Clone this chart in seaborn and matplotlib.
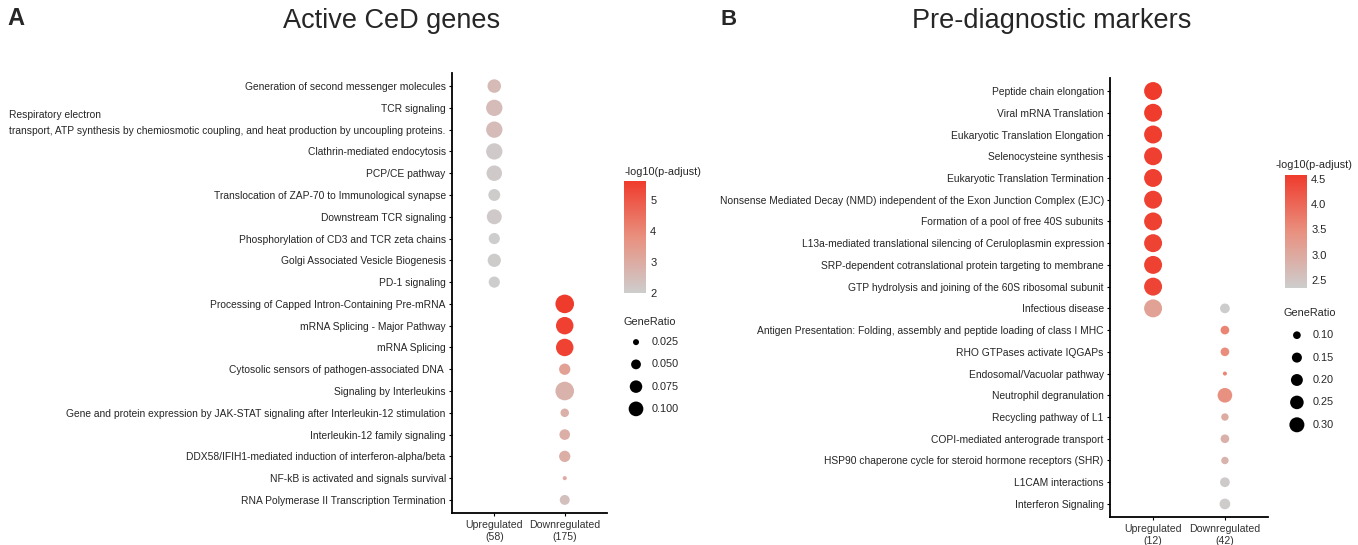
import numpy as np
import pandas as pd
import matplotlib
matplotlib.use("Agg")
import matplotlib.pyplot as plt
import seaborn as sns
from matplotlib.colors import LinearSegmentedColormap, Normalize
from matplotlib.cm import ScalarMappable

sns.set_theme(style="ticks")
plt.rcParams["font.family"] = ["Liberation Sans", "DejaVu Sans"]

# ---------------------------
# Data
# ---------------------------
a_groups = ["Upregulated\n(58)", "Downregulated\n(175)"]
a_up_terms = [
    "Generation of second messenger molecules",
    "TCR signaling",
    "transport, ATP synthesis by chemiosmotic coupling, and heat production by uncoupling proteins.",
    "Clathrin-mediated endocytosis",
    "PCP/CE pathway",
    "Translocation of ZAP-70 to Immunological synapse",
    "Downstream TCR signaling",
    "Phosphorylation of CD3 and TCR zeta chains",
    "Golgi Associated Vesicle Biogenesis",
    "PD-1 signaling",
]
a_up_ratio = [0.086, 0.121, 0.121, 0.121, 0.110, 0.069, 0.103, 0.062, 0.083, 0.062]
a_up_padj = [2.55, 2.5, 2.5, 2.1, 2.1, 2.05, 2.1, 2.0, 2.05, 2.0]

a_down_terms = [
    "Processing of Capped Intron-Containing Pre-mRNA",
    "mRNA Splicing - Major Pathway",
    "mRNA Splicing",
    "Cytosolic sensors of pathogen-associated DNA ",
    "Signaling by Interleukins",
    "Gene and protein expression by JAK-STAT signaling after Interleukin-12 stimulation",
    "Interleukin-12 family signaling",
    "DDX58/IFIH1-mediated induction of interferon-alpha/beta",
    "NF-kB is activated and signals survival",
    "RNA Polymerase II Transcription Termination",
]
a_down_ratio = [0.154, 0.137, 0.137, 0.063, 0.154, 0.040, 0.057, 0.063, 0.017, 0.051]
a_down_padj = [5.6, 5.5, 5.45, 3.3, 2.8, 2.85, 2.9, 2.9, 3.0, 2.4]

b_groups = ["Upregulated\n(12)", "Downregulated\n(42)"]
b_up_terms = [
    "Peptide chain elongation",
    "Viral mRNA Translation",
    "Eukaryotic Translation Elongation",
    "Selenocysteine synthesis",
    "Eukaryotic Translation Termination",
    "Nonsense Mediated Decay (NMD) independent of the Exon Junction Complex (EJC)",
    "Formation of a pool of free 40S subunits",
    "L13a-mediated translational silencing of Ceruloplasmin expression",
    "SRP-dependent cotranslational protein targeting to membrane",
    "GTP hydrolysis and joining of the 60S ribosomal subunit",
    "Infectious disease",
]
b_up_ratio = [0.417, 0.417, 0.417, 0.417, 0.417, 0.417, 0.417, 0.417, 0.417, 0.417, 0.417]
b_up_padj = [4.58, 4.56, 4.55, 4.52, 4.52, 4.5, 4.5, 4.48, 4.5, 4.45, 3.15]

b_down_terms = [
    "Infectious disease",
    "Antigen Presentation: Folding, assembly and peptide loading of class I MHC",
    "RHO GTPases activate IQGAPs",
    "Endosomal/Vacuolar pathway",
    "Neutrophil degranulation",
    "Recycling pathway of L1",
    "COPI-mediated anterograde transport",
    "HSP90 chaperone cycle for steroid hormone receptors (SHR)",
    "L1CAM interactions",
    "Interferon Signaling",
]
b_down_ratio = [0.143, 0.119, 0.119, 0.048, 0.286, 0.095, 0.119, 0.095, 0.143, 0.167]
b_down_padj = [2.36, 3.6, 3.5, 3.6, 3.45, 2.95, 2.85, 2.8, 2.4, 2.38]

a_cbar_ticks = [2, 3, 4, 5]
b_cbar_ticks = [2.5, 3.0, 3.5, 4.0, 4.5]
a_size_breaks = [0.025, 0.050, 0.075, 0.100]
b_size_breaks = [0.10, 0.15, 0.20, 0.25, 0.30]

cmap = LinearSegmentedColormap.from_list(
    "greyred", [(0, "#cdcdcd"), (0.5, "#e9907f"), (1, "#ef3b2c")])

W, H = 1358, 545
LAB = 7.4


def box(left, top, right, bottom):
    # pixel box -> figure fraction rect
    return [left / W, 1 - bottom / H, (right - left) / W, (bottom - top) / H]


def build_df(groups, up_t, up_r, up_p, dn_t, dn_r, dn_p):
    up = pd.DataFrame({"term": up_t, "ratio": up_r, "padj": up_p, "group": groups[0]})
    dn = pd.DataFrame({"term": dn_t, "ratio": dn_r, "padj": dn_p, "group": groups[1]})
    return pd.concat([up, dn], ignore_index=True)


def size_of(v, size_norm, sizes):
    return sizes[0] + (np.asarray(v) - size_norm[0]) / (size_norm[1] - size_norm[0]) * (sizes[1] - sizes[0])


def dot_panel(fig, rect, df, norm, size_norm, sizes):
    ax = fig.add_axes(rect)
    sns.scatterplot(data=df, x="group", y="term", hue="padj", size="ratio",
                    palette=cmap, hue_norm=norm, sizes=sizes, size_norm=size_norm,
                    linewidth=0, alpha=1, legend=False, ax=ax)
    ax.set_ylim(19.6, -0.6)
    ax.set_xlim(-0.6, 1.6)
    ax.set_xlabel("")
    ax.set_ylabel("")
    sns.despine(ax=ax)
    for s in ["left", "bottom"]:
        ax.spines[s].set_color("black")
        ax.spines[s].set_linewidth(1.3)
    ax.tick_params(axis="y", length=2.5, width=0.8, pad=2, labelsize=LAB,
                   color="black", labelcolor="#262626")
    ax.tick_params(axis="x", length=2.5, width=0.8, pad=2.5, labelsize=7.6,
                   color="black", labelcolor="#333333")
    return ax


def color_bar(fig, rect, norm, ticks, fmt, title, title_xy):
    cax = fig.add_axes(rect)
    cb = fig.colorbar(ScalarMappable(norm=norm, cmap=cmap), cax=cax, ticks=ticks, format=fmt)
    cb.outline.set_visible(False)
    cax.tick_params(direction="in", length=3, width=0.8, color="white",
                    left=True, right=True, labelleft=False, labelright=True,
                    labelsize=8, labelcolor="#262626", pad=3)
    fig.text(title_xy[0] / W, 1 - title_xy[1] / H, title, fontsize=7.8,
             ha="left", va="center", color="#262626")
    return cb


def size_legend(fig, rect, breaks, labels, size_norm, sizes, title, title_xy, dot_x, lab_x):
    lax = fig.add_axes(rect)
    lax.set_xlim(0, 1)
    lax.set_ylim(len(breaks) - 0.5, -0.5)
    lax.axis("off")
    pos = np.arange(len(breaks))
    lax.scatter(np.full(len(breaks), dot_x), pos, s=size_of(breaks, size_norm, sizes),
                color="black", linewidths=0)
    for p, lab in zip(pos, labels):
        lax.text(lab_x, p, lab, fontsize=7.8, ha="left", va="center", color="#262626")
    fig.text(title_xy[0] / W, 1 - title_xy[1] / H, title, fontsize=7.8,
             ha="left", va="center", color="#262626")


fig = plt.figure(figsize=(13.58, 5.45), dpi=100)

# ---------------------------
# Panel A
# ---------------------------
df_a = build_df(a_groups, a_up_terms, a_up_ratio, a_up_padj,
                a_down_terms, a_down_ratio, a_down_padj)
norm_a = Normalize(2.0, 5.6)
sn_a, sz_a = (0.01, 0.2), (0.0, 236.4)
ax_a = dot_panel(fig, box(452, 73, 607, 513), df_a, norm_a, sn_a, sz_a)
color_bar(fig, box(624, 181, 646, 293), norm_a, a_cbar_ticks, "%g",
          "-log10(p-adjust)", (625, 172))
size_legend(fig, box(624, 331, 700, 420), a_size_breaks,
            [f"{b:.3f}" for b in a_size_breaks], sn_a, sz_a, "GeneRatio", (623, 322),
            0.158, 0.37)

# ---------------------------
# Panel B
# ---------------------------
df_b = build_df(b_groups, b_up_terms, b_up_ratio, b_up_padj,
                b_down_terms, b_down_ratio, b_down_padj)
norm_b = Normalize(2.34, 4.58)
sn_b, sz_b = (0.0289, 0.5), (0.0, 202.7)
ax_b = dot_panel(fig, box(1110, 78, 1268, 517), df_b, norm_b, sn_b, sz_b)
color_bar(fig, box(1285, 175, 1307, 288), norm_b, b_cbar_ticks, "%.1f",
          "-log10(p-adjust)", (1276, 165))
size_legend(fig, box(1285, 324, 1355, 436), b_size_breaks,
            [f"{b:.2f}" for b in b_size_breaks], sn_b, sz_b, "GeneRatio", (1284, 313),
            0.17, 0.4)

# titles and panel letters
fig.text(283 / W, 1 - 28 / H, "Active CeD genes", fontsize=19.5, ha="left", va="baseline")
fig.text(912 / W, 1 - 28 / H, "Pre-diagnostic markers", fontsize=19.5, ha="left", va="baseline")
fig.text(7 / W, 1 - 25 / H, "A", fontsize=17, fontweight="bold", ha="left", va="baseline")
fig.text(720 / W, 1 - 25 / H, "B", fontsize=16, fontweight="bold", ha="left", va="baseline")

# first line of the two-line label in panel A
fig.canvas.draw()
lab = ax_a.get_yticklabels()[2]
bb = lab.get_window_extent()
cy = (bb.y0 + bb.y1) / 2
fig.text(bb.x0 / W, (cy + 16) / H, "Respiratory electron", fontsize=LAB,
         ha="left", va="center", color="#262626")

fig.savefig("out.png", dpi=100)
